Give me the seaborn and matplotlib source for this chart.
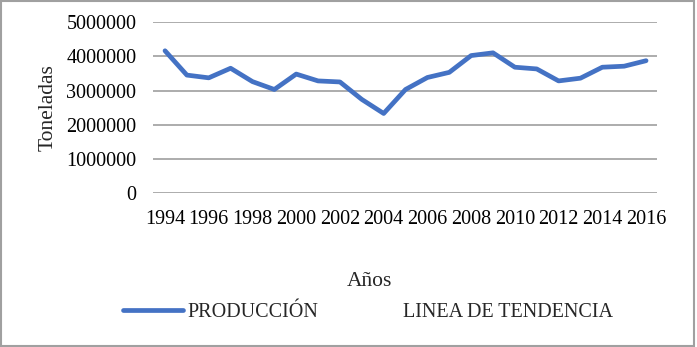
import matplotlib
matplotlib.use("Agg")
import matplotlib.pyplot as plt
import pandas as pd
import seaborn as sns
from matplotlib.lines import Line2D
from matplotlib.patches import Rectangle

years = list(range(1994, 2017))
produccion = [4160000, 3450000, 3370000, 3650000, 3260000, 3030000, 3480000,
              3280000, 3250000, 2740000, 2330000, 3030000, 3380000, 3530000,
              4020000, 4100000, 3680000, 3630000, 3280000, 3360000, 3680000,
              3710000, 3870000]
year_ticks = list(range(1994, 2017, 2))
y_ticks = [0, 1000000, 2000000, 3000000, 4000000, 5000000]

df = pd.DataFrame({"Años": years, "Toneladas": produccion})

sns.set_style("white")
plt.rcParams['font.family'] = ['Liberation Serif', 'DejaVu Serif']

fig = plt.figure(figsize=(6.97, 3.47), dpi=100)
ax = fig.add_axes([0.2195, 0.443, 0.7231, 0.4936])

sns.lineplot(data=df, x="Años", y="Toneladas", color="#4472C4",
             linewidth=3.4, ax=ax, legend=False)

ax.set_xlim(1993.45, 2016.5)
ax.set_ylim(0, 5000000)
ax.set_xticks(year_ticks)
ax.set_xticklabels([str(y) for y in year_ticks])
ax.set_yticks(y_ticks)
ax.set_yticklabels([str(v) for v in y_ticks])
ax.yaxis.grid(True, color="#A6A6A6", linewidth=1.3)
ax.xaxis.grid(False)
for s in ax.spines.values():
    s.set_visible(False)
ax.tick_params(axis="both", length=0, labelsize=14.5, colors="black")
ax.tick_params(axis="x", pad=12)
ax.tick_params(axis="y", pad=12)

ax.set_ylabel("Toneladas", fontsize=15.5)
ax.yaxis.set_label_coords(-0.19, 0.5)
ax.set_xlabel("Años", fontsize=15.5)
ax.xaxis.set_label_coords(0.43, -0.46)

handles = [Line2D([], [], color="#4472C4", linewidth=3.4),
           Line2D([], [], color="none", linewidth=3.4)]
fig.legend(handles, ["PRODUCCIÓN", "LINEA DE TENDENCIA"], ncol=2,
           loc="center", bbox_to_anchor=(368 / 697, 1 - 312 / 347),
           frameon=False, fontsize=14.5, handlelength=3.0,
           handletextpad=0.2, columnspacing=1.0)

fig.patches.append(Rectangle((0.002, 0.004), 0.994, 0.992, transform=fig.transFigure,
                             fill=False, edgecolor="#A0A0A0", linewidth=1.5))

fig.savefig("out.png", dpi=100)
